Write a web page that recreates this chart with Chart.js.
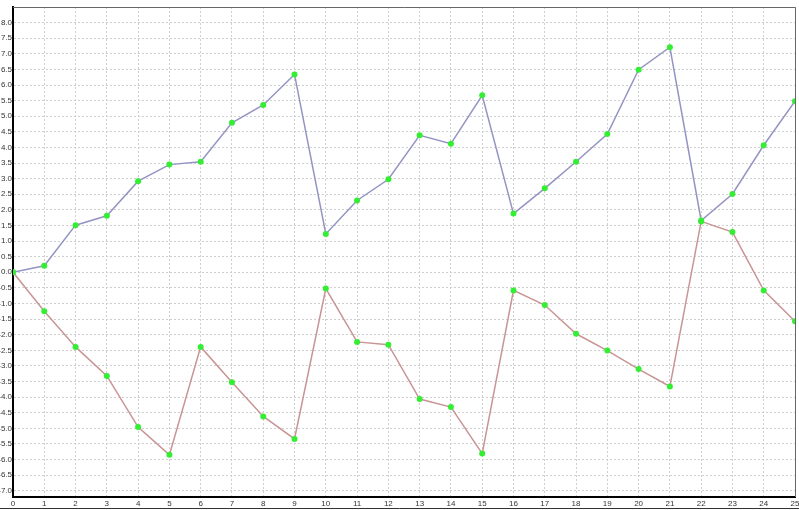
<!DOCTYPE html>
<html>
<head>
<meta charset="utf-8">
<script src="https://cdn.jsdelivr.net/npm/chart.js@4"></script>
<style>
  html, body { margin: 0; padding: 0; background: #fff; }
  #wrap { width: 799px; height: 510px; }
</style>
</head>
<body>
<div id="wrap"><canvas id="myChart" width="799" height="510"></canvas></div>
<script>

// x positions 0..25
var xValues = [0, 1, 2, 3, 4, 5, 6, 7, 8, 9, 10, 11, 12, 13, 14, 15, 16, 17, 18, 19, 20, 21, 22, 23, 24, 25];

// upper (blue) line
var upperValues = [0.0, 0.21, 1.51, 1.81, 2.92, 3.45, 3.54, 4.79, 5.36, 6.34, 1.23, 2.30, 2.98, 4.39, 4.12, 5.67, 1.88, 2.69, 3.54, 4.43, 6.49, 7.21, 1.66, 2.51, 4.07, 5.48];

// lower (red) line
var lowerValues = [0.0, -1.25, -2.39, -3.32, -4.96, -5.85, -2.39, -3.52, -4.62, -5.34, -0.52, -2.23, -2.32, -4.06, -4.32, -5.81, -0.58, -1.05, -1.97, -2.51, -3.10, -3.66, 1.63, 1.29, -0.58, -1.57];

var yMin = -7.2;
var yMax = 8.5;

function toPoints(values) {
    return values.map(function(v, i) { return { x: xValues[i], y: v }; });
}

// thin frame on top and right side of the plot
var framePlugin = {
    id: 'frame',
    afterDraw: function(chart) {
        var ctx = chart.ctx;
        var a = chart.chartArea;
        ctx.save();
        ctx.strokeStyle = '#666';
        ctx.lineWidth = 1;
        ctx.beginPath();
        ctx.moveTo(a.left, a.top + 0.5);
        ctx.lineTo(a.right + 0.5, a.top + 0.5);
        ctx.lineTo(a.right + 0.5, a.bottom);
        ctx.stroke();
        ctx.strokeStyle = '#333';
        ctx.beginPath();
        ctx.moveTo(0, 508.5);
        ctx.lineTo(799, 508.5);
        ctx.stroke();
        ctx.restore();
    }
};

var gridDash = [2, 2];
var tickFont = { family: 'Liberation Sans', size: 8 };

document.addEventListener("DOMContentLoaded", function()
{
    var canvas = document.getElementById("myChart");

    new Chart(canvas, {
        type: 'line',
        data: {
          datasets: [{
            label: 'upper',
            data: toPoints(upperValues),
            borderColor: '#9494c4',
            borderWidth: 1.5,
            pointRadius: 3,
            pointBackgroundColor: '#33ee33',
            pointBorderColor: '#33ee33',
            pointBorderWidth: 0,
            tension: 0
          }, {
            label: 'lower',
            data: toPoints(lowerValues),
            borderColor: '#c89494',
            borderWidth: 1.5,
            pointRadius: 3,
            pointBackgroundColor: '#33ee33',
            pointBorderColor: '#33ee33',
            pointBorderWidth: 0,
            tension: 0
          }]
        },
        options: {
          responsive: false,
          animation: false,
          layout: { padding: { top: 7, right: 4, left: 0, bottom: 0 } },
          plugins: {
            legend: { display: false },
            tooltip: { enabled: false }
          },
          scales: {
            x: {
              type: 'linear',
              min: 0,
              max: 25,
              ticks: {
                stepSize: 1,
                padding: 2,
                maxRotation: 0,
                autoSkip: false,
                color: '#333',
                font: tickFont,
                callback: function(v) { return String(v); }
              },
              grid: { color: '#cfcfcf', drawTicks: false, lineWidth: 1 },
              border: { color: '#000', width: 2, dash: gridDash },
              afterFit: function(scale) {
                scale.height = 13;
                scale.paddingLeft = 0;
                scale.paddingRight = 0;
              }
            },
            y: {
              type: 'linear',
              min: yMin,
              max: yMax,
              ticks: {
                stepSize: 0.5,
                includeBounds: false,
                padding: 1,
                autoSkip: false,
                color: '#333',
                font: tickFont,
                callback: function(v) { return (Math.abs(v) < 1e-9 ? 0 : v).toFixed(1); }
              },
              afterBuildTicks: function(scale) {
                scale.ticks = scale.ticks.filter(function(t) {
                  var d = t.value * 2;
                  return Math.abs(d - Math.round(d)) < 1e-6 && t.value > -7.05 && t.value < 8.05;
                });
              },
              grid: { color: '#cfcfcf', drawTicks: false, lineWidth: 1 },
              border: { color: '#000', width: 2, dash: gridDash },
              afterFit: function(scale) {
                scale.width = 13;
                scale.paddingTop = 0;
                scale.paddingBottom = 0;
              }
            }
          }
        },
        plugins: [framePlugin]
      });
})
</script>
</body>
</html>
